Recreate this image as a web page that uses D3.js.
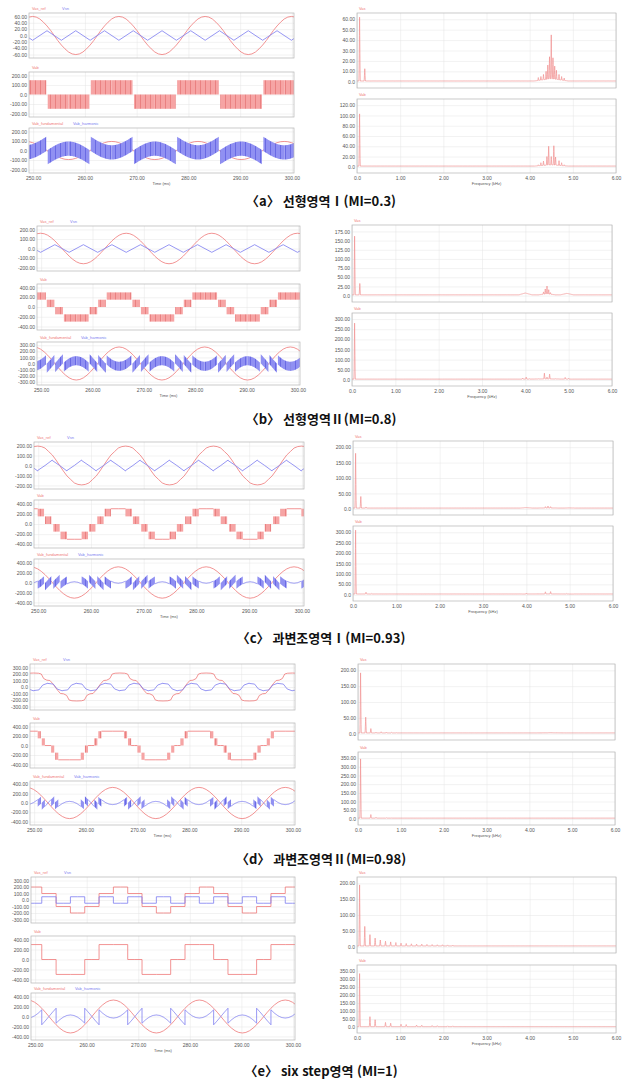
<!DOCTYPE html>
<html lang="ko">
<head>
<meta charset="UTF-8">
<title>PWM 변조영역별 파형 및 스펙트럼</title>
<script src="https://d3js.org/d3.v7.min.js"></script>
<style>
  body { margin: 0; background: #fff; }
  .ax line { stroke: #e4e4e4; stroke-width: 0.5; }
  .ax text { font-family: "Liberation Sans", Arial, sans-serif; font-size: 5px; fill: #555; }
  .lbl { font-family: "Liberation Sans", Arial, sans-serif; font-size: 4px; }
  .caption { font-family: "Noto Sans CJK KR", sans-serif; font-weight: bold; font-size: 13px; fill: #111; }
</style>
</head>
<body>
<svg id="fig" width="625" height="1083"></svg>
<script>
// ---- data ----
const captions = ["〈a〉 선형영역Ⅰ(MI=0.3)", "〈b〉 선형영역Ⅱ(MI=0.8)", "〈c〉 과변조영역Ⅰ(MI=0.93)",
                  "〈d〉 과변조영역Ⅱ(MI=0.98)", "〈e〉 six step영역 (MI=1)"];

const timeTicks = [250, 260, 270, 280, 290, 300];
const freqTicks = [0, 1, 2, 3, 4, 5, 6];

const topTicks = [[-60, -40, -20, 0, 20, 40, 60], [-200, -100, 0, 100, 200], [-200, -100, 0, 100, 200],
                  [-300, -200, -100, 0, 100, 200, 300], [-300, -200, -100, 0, 100, 200, 300]];
const midTicks = [[-200, -100, 0, 100, 200], [-400, -200, 0, 200, 400], [-400, -200, 0, 200, 400],
                  [-400, -200, 0, 200, 400], [-400, -200, 0, 200, 400]];
const botTicks = [[-200, -100, 0, 100, 200], [-300, -200, -100, 0, 100, 200, 300], [-400, -200, 0, 200, 400],
                  [-400, -200, 0, 200, 400], [-400, -200, 0, 200, 400]];
const specTopTicks = [[0, 10, 20, 30, 40, 50, 60], [0, 25, 50, 75, 100, 125, 150, 175], [0, 50, 100, 150, 200],
                      [0, 50, 100, 150, 200], [0, 50, 100, 150, 200]];
const specBotTicks = [[0, 20, 40, 60, 80, 100, 120], [0, 50, 100, 150, 200, 250, 300], [0, 50, 100, 150, 200, 250, 300],
                      [0, 50, 100, 150, 200, 250, 300, 350], [0, 50, 100, 150, 200, 250, 300, 350]];

// Vas_ref, quarter wave [phase deg, V]
const refQuarter = [
  [[0, 60], [15, 58], [30, 52], [45, 42], [60, 30], [75, 16], [90, 0]],
  [[0, 160], [15, 155], [30, 139], [45, 113], [60, 80], [75, 41], [90, 0]],
  [[0, 195], [15, 190], [30, 175], [45, 140], [60, 105], [75, 55], [90, 0]],
  [[0, 215], [20, 212], [32, 200], [42, 130], [55, 105], [68, 100], [80, 50], [90, 0]],
  [[0, 200], [30, 200], [30, 100], [90, 100]]
];
// Vsn, one sixth of a period [phase deg, V]
const vsnSixth = [
  [[0, -15], [60, 15]],
  [[0, -40], [60, 40]],
  [[0, -50], [30, 0], [60, 55]],
  [[0, -55], [22, -45], [38, 30], [60, 60]],
  [[0, -50], [30, -50], [30, 50], [60, 50]]
];
// Vab fundamental, quarter wave [phase deg, V]
const fundQuarter = [
  [[0, 95], [15, 92], [30, 82], [45, 67], [60, 48], [75, 25], [90, 0]],
  [[0, 272], [15, 263], [30, 236], [45, 192], [60, 136], [75, 70], [90, 0]],
  [[0, 315], [15, 304], [30, 273], [45, 223], [60, 158], [75, 82], [90, 0]],
  [[0, 335], [15, 324], [30, 290], [45, 237], [60, 168], [75, 87], [90, 0]],
  [[0, 331], [15, 320], [30, 287], [45, 234], [60, 166], [75, 86], [90, 0]]
];
// Vab switching blocks over a quarter wave: [from deg, to deg, low V, high V] (low == high: flat level)
const vabBlocks = [
  [[0, 87, 0, 150]],
  [[0, 52, 150, 300], [56, 88, 0, 150]],
  [[0, 30, 300, 300], [30, 56, 150, 300], [60, 86, 0, 150]],
  [[0, 47, 300, 300], [47, 60, 150, 300], [64, 77, 0, 150], [77, 90, 0, 0]],
  [[0, 60, 300, 300], [60, 90, 0, 0]]
];
// spectra: [kHz, amplitude, (half width)]
const specTop = [
  [[0.06, 62], [0.18, 12.5], [4.5, 45], [4.46, 24], [4.54, 23], [4.42, 16], [4.58, 15], [4.38, 10], [4.62, 11],
   [4.32, 7], [4.68, 7], [4.26, 5], [4.74, 5], [4.2, 4], [4.8, 3.5], [4.5, 3, 0.4]],
  [[0.06, 162], [0.18, 33], [4.5, 26], [4.46, 18], [4.54, 16], [4.42, 10], [4.58, 8], [4.0, 7, 0.15], [4.96, 6, 0.15], [4.5, 5, 0.2]],
  [[0.06, 180], [0.18, 40], [0.3, 6], [4.5, 9], [4.44, 7], [4.56, 7], [4.0, 4, 0.15], [5.0, 3, 0.15], [4.5, 3, 0.3]],
  [[0.06, 192], [0.18, 52], [0.3, 16], [0.42, 5], [0.54, 6], [0.66, 5], [0.78, 4], [0.9, 3], [4.5, 3, 0.35]],
  [[0.06, 195], [0.18, 64], [0.3, 38], [0.42, 27], [0.54, 21], [0.66, 17], [0.78, 15], [0.9, 13], [1.02, 11], [1.14, 10],
   [1.26, 9], [1.38, 8], [1.5, 8], [1.62, 7], [1.74, 6.5], [1.86, 6], [1.98, 6], [2.1, 5.5], [2.22, 5]]
];
const specBot = [
  [[0.06, 103], [4.44, 40], [4.56, 41], [4.5, 20], [4.4, 20], [4.6, 19], [4.32, 11], [4.68, 12], [4.26, 8], [4.74, 8],
   [4.2, 4], [4.8, 4], [4.5, 4, 0.4]],
  [[0.06, 280], [4.44, 33], [4.56, 28], [4.5, 14], [4.02, 14], [3.94, 9], [4.1, 6], [4.92, 12], [5.0, 8], [4.7, 6], [4.3, 6], [4.5, 5, 0.6]],
  [[0.06, 310], [0.3, 12], [0.42, 6], [4.44, 14], [4.56, 15], [4.0, 8], [4.92, 6], [4.5, 4, 0.6]],
  [[0.06, 345], [0.3, 25], [0.42, 9], [0.66, 7], [0.78, 5], [1.02, 3], [4.5, 3, 0.5]],
  [[0.06, 332], [0.3, 66], [0.42, 47], [0.66, 30], [0.78, 25], [1.02, 19], [1.14, 17], [1.38, 14], [1.5, 13],
   [1.74, 11], [1.86, 10], [2.1, 9], [2.22, 9]]
];

// ---- layout ----
const T0 = 249.9, T = 1000 / 60;   // Vas_ref peak (ms), period (ms)
const timeDomain = [249.2, 300.4];
const layout = [
  { lx: [29, 294], ly: [[13, 58], [72, 117], [128, 173]], rx: [357, 616], ry: [[13, 88], [99, 173]], cap: 200 },
  { lx: [37, 300], ly: [[226, 271], [284, 330], [342, 385]], rx: [352, 612], ry: [[225, 302], [313, 386]], cap: 418 },
  { lx: [34, 304], ly: [[442, 489], [500, 548], [559, 606]], rx: [353, 613], ry: [[441, 515], [526, 601]], cap: 637 },
  { lx: [30, 295], ly: [[664, 710], [723, 768], [781, 825]], rx: [358, 615], ry: [[664, 740], [752, 825]], cap: 858 },
  { lx: [31, 295], ly: [[877, 923], [936, 983], [993, 1040]], rx: [357, 616], ry: [[877, 953], [965, 1033]], cap: 1070 }
];
const red = "#ef7878", blue = "#7c7cf0", pink = "#f09090";

const fig = d3.select("#fig");
const defs = fig.append("defs");
function makeHatch(id, fill, line) {
  const p = defs.append("pattern").attr("id", id).attr("patternUnits", "userSpaceOnUse")
    .attr("width", 5).attr("height", 5);
  p.append("rect").attr("width", 5).attr("height", 5).attr("fill", fill);
  p.append("rect").attr("width", 0.7).attr("height", 5).attr("fill", line);
}
makeHatch("hatchRed", "#f6a4a4", "#e57272");
makeHatch("hatchBlue", "#9090f2", "#5a5ade");

const fmtY = d => d === 0 ? "0.0" : d.toFixed(2);
const frames = [];

function unfoldQuarter(q) {
  const half = q.concat(q.slice().reverse().map(([a, v]) => [180 - a, -v]));
  return half.concat(half.map(([a, v]) => [a + 180, -v]));
}
function unfoldSixth(s) {
  const out = [];
  for (let k = 0; k < 6; k++) s.forEach(([a, v]) => out.push([a + 60 * k, k % 2 ? -v : v]));
  return out;
}
function valueAt(full, a) {
  const p = ((a % 360) + 360) % 360;
  for (let i = 1; i < full.length; i++) {
    const [a0, v0] = full[i - 1], [a1, v1] = full[i];
    if (p >= a0 && p <= a1) return a1 === a0 ? v1 : v0 + (v1 - v0) * (p - a0) / (a1 - a0);
  }
  return full[full.length - 1][1];
}
// phase (deg) -> time (ms); shift 30 for line-to-line quantities
const tOf = (a, shift) => T0 + (a - shift) / 360 * T;
function tile(full) {
  const pts = [];
  for (let k = -1; k <= 4; k++) full.forEach(([a, v]) => pts.push([tOf(a + 360 * k, 0), v]));
  return pts;
}

function panel(g, x, yr, ticks, xticks, id, mode, xfmt) {
  const [x0, x1] = x.range(), [y0, y1] = yr;
  const lo = d3.min(ticks), hi = d3.max(ticks);
  const dom = mode === "spec" ? [lo - 0.1 * hi, hi * 1.1] : [lo - 0.09 * (hi - lo), hi + 0.09 * (hi - lo)];
  const y = d3.scaleLinear().domain(dom).range([y1, y0]);
  g.append("g").attr("class", "ax").attr("transform", `translate(${x0},0)`)
    .call(d3.axisLeft(y).tickValues(ticks).tickSize(-(x1 - x0)).tickPadding(2).tickFormat(fmtY))
    .call(a => a.select(".domain").remove());
  g.append("g").attr("class", "ax").attr("transform", `translate(0,${y1})`)
    .call(d3.axisBottom(x).tickValues(xticks).tickSize(-(y1 - y0)).tickPadding(3).tickFormat(xfmt || (() => "")))
    .call(a => a.select(".domain").remove());
  defs.append("clipPath").attr("id", id).append("rect")
    .attr("x", x0).attr("y", y0).attr("width", x1 - x0).attr("height", y1 - y0);
  frames.push([x0, y0, x1, y1]);
  return { y, plot: g.append("g").attr("clip-path", `url(#${id})`) };
}

function legend(g, x0, y0, items) {
  items.forEach(([txt, col, dx]) => g.append("text").attr("class", "lbl")
    .attr("x", x0 + dx).attr("y", y0 - 3.5).attr("fill", col).text(txt));
}

function specPath(spikes, top) {
  const base = top * 0.012;
  const fs = d3.range(0, 6.0001, 0.004).concat(spikes.map(s => s[0])).sort((a, b) => a - b);
  return fs.map(f => {
    let v = base;
    spikes.forEach(([c, amp, hw]) => {
      const w = hw || 0.014, d = Math.abs(f - c) / w;
      if (d < 1) v = Math.max(v, base + (amp - base) * (1 - d));
    });
    return [f, v];
  });
}

layout.forEach((L, r) => {
  const g = fig.append("g");
  const x = d3.scaleLinear().domain(timeDomain).range(L.lx);
  const [x0, x1] = L.lx;

  // top: Vas_ref and Vsn
  const p1 = panel(g, x, L.ly[0], topTicks[r], timeTicks, `c${r}t`, "time");
  const line1 = d3.line().x(d => x(d[0])).y(d => p1.y(d[1]));
  p1.plot.append("path").attr("d", line1(tile(unfoldQuarter(refQuarter[r]))))
    .attr("fill", "none").attr("stroke", red).attr("stroke-width", 0.8);
  p1.plot.append("path").attr("d", line1(tile(unfoldSixth(vsnSixth[r]))))
    .attr("fill", "none").attr("stroke", blue).attr("stroke-width", 0.8);
  legend(g, x0, L.ly[0][0], [["Vas_ref", red, 3], ["Vsn", blue, 33]]);

  // Vab blocks over whole span
  const inst = [];
  for (let k = -1; k <= 4; k++) {
    const o = 360 * k;
    vabBlocks[r].forEach(([a0, a1, lo, hi]) => {
      inst.push([o + a0, o + a1, lo, hi], [o - a1, o - a0, lo, hi],
                [o + 180 + a0, o + 180 + a1, -hi, -lo], [o + 180 - a1, o + 180 - a0, -hi, -lo]);
    });
  }
  inst.sort((a, b) => a[0] - b[0]);
  const blocks = inst.filter(s => s[2] !== s[3]);
  const flats = [];
  inst.filter(s => s[2] === s[3]).forEach(s => {
    const last = flats[flats.length - 1];
    if (last && Math.abs(last[last.length - 1][1] - s[0]) < 1e-6) last.push(s);
    else flats.push([s]);
  });

  // middle: Vab
  const p2 = panel(g, x, L.ly[1], midTicks[r], timeTicks, `c${r}m`, "time");
  p2.plot.selectAll(null).data(blocks).join("rect")
    .attr("x", d => x(tOf(d[0], 30))).attr("width", d => x(tOf(d[1], 30)) - x(tOf(d[0], 30)))
    .attr("y", d => p2.y(d[3])).attr("height", d => p2.y(d[2]) - p2.y(d[3]))
    .attr("fill", "url(#hatchRed)");
  const line2 = d3.line().x(d => x(tOf(d[0], 30))).y(d => p2.y(d[1]));
  flats.forEach(run => {
    const pts = [];
    run.forEach(s => pts.push([s[0], s[2]], [s[1], s[2]]));
    p2.plot.append("path").attr("d", line2(pts)).attr("fill", "none").attr("stroke", red).attr("stroke-width", 0.8);
  });
  legend(g, x0, L.ly[1][0], [["Vab", red, 3]]);

  // bottom: fundamental and harmonic
  const fund = unfoldQuarter(fundQuarter[r]);
  const p3 = panel(g, x, L.ly[2], botTicks[r], timeTicks, `c${r}b`, "time", d => d.toFixed(2));
  const line3 = d3.line().x(d => x(tOf(d[0], 30))).y(d => p3.y(d[1]));
  const fundPts = [];
  for (let k = -1; k <= 4; k++) fund.forEach(([a, v]) => fundPts.push([a + 360 * k, v]));
  p3.plot.append("path").attr("d", line3(fundPts)).attr("fill", "none").attr("stroke", red).attr("stroke-width", 0.8);
  const steps = (a0, a1) => d3.range(a0, a1, 3).concat([a1]);
  blocks.forEach(([a0, a1, lo, hi]) => {
    const up = steps(a0, a1).map(a => [a, hi - valueAt(fund, a)]);
    const dn = steps(a0, a1).reverse().map(a => [a, lo - valueAt(fund, a)]);
    p3.plot.append("path").attr("d", line3(up.concat(dn)) + "Z").attr("fill", "url(#hatchBlue)");
  });
  flats.forEach(run => {
    const pts = [];
    run.forEach(s => steps(s[0], s[1]).forEach(a => pts.push([a, s[2] - valueAt(fund, a)])));
    p3.plot.append("path").attr("d", line3(pts)).attr("fill", "none").attr("stroke", blue).attr("stroke-width", 0.8);
  });
  legend(g, x0, L.ly[2][0], [["Vab_fundamental", red, 3], ["Vab_harmonic", blue, 44]]);
  g.append("text").attr("class", "lbl").attr("fill", "#555").attr("text-anchor", "middle")
    .attr("x", (x0 + x1) / 2).attr("y", L.ly[2][1] + 11.5).text("Time (ms)");

  // spectra
  const fx = d3.scaleLinear().domain([0, 6]).range(L.rx);
  const s1 = panel(g, fx, L.ry[0], specTopTicks[r], freqTicks, `c${r}s1`, "spec");
  const s2 = panel(g, fx, L.ry[1], specBotTicks[r], freqTicks, `c${r}s2`, "spec", d => d === 0 ? "0.0" : d.toFixed(2));
  [[s1, specTop[r], specTopTicks[r]], [s2, specBot[r], specBotTicks[r]]].forEach(([p, data, tk]) => {
    const ln = d3.line().x(d => fx(d[0])).y(d => p.y(d[1]));
    p.plot.append("path").attr("d", ln(specPath(data, d3.max(tk))))
      .attr("fill", "none").attr("stroke", pink).attr("stroke-width", 0.7);
  });
  legend(g, L.rx[0], L.ry[0][0], [["Vas", red, 2]]);
  legend(g, L.rx[0], L.ry[1][0], [["Vab", red, 2]]);
  g.append("text").attr("class", "lbl").attr("fill", "#555").attr("text-anchor", "middle")
    .attr("x", (L.rx[0] + L.rx[1]) / 2).attr("y", L.ry[1][1] + 11.5).text("Frequency (kHz)");

  fig.append("text").attr("class", "caption").attr("x", 321).attr("y", L.cap)
    .attr("text-anchor", "middle").attr("dominant-baseline", "central").text(captions[r]);
});

fig.append("g").selectAll("rect").data(frames).join("rect")
  .attr("x", d => d[0]).attr("y", d => d[1]).attr("width", d => d[2] - d[0]).attr("height", d => d[3] - d[1])
  .attr("fill", "none").attr("stroke", "#b4b4b4").attr("stroke-width", 0.7);
</script>
</body>
</html>
